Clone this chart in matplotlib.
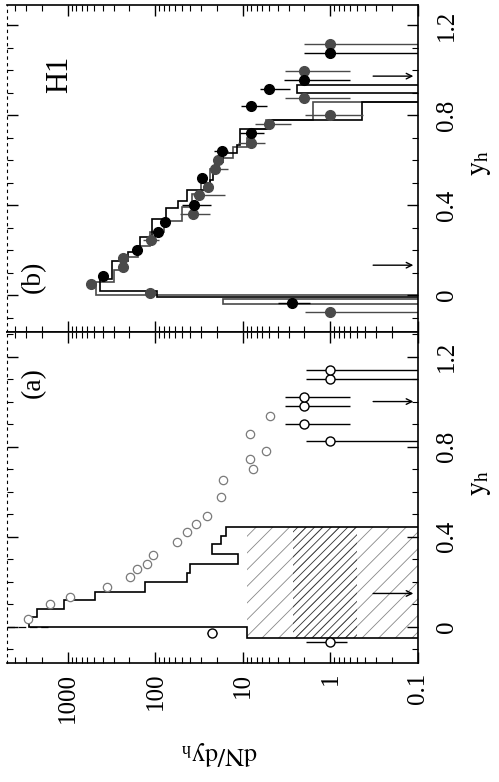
import numpy as np
import matplotlib
matplotlib.use("Agg")
import matplotlib.pyplot as plt
from matplotlib.ticker import LogLocator, MultipleLocator, NullFormatter, FixedLocator

plt.rcParams['font.family'] = ['Liberation Serif', 'DejaVu Serif']
plt.rcParams['mathtext.fontset'] = 'stix'
plt.rcParams['hatch.linewidth'] = 0.6

# ---- panel (a) data ----
# faint open circles (scanned badly)
ya_faint = [0.034, 0.10, 0.13, 0.175, 0.22, 0.256, 0.28, 0.32, 0.375, 0.42,
            0.456, 0.493, 0.575, 0.65, 0.70, 0.745, 0.78, 0.856, 0.938]
na_faint = [2840, 1610, 950, 361, 196, 164, 126, 106, 57, 44,
            34, 26, 18, 17, 7.7, 8.3, 5.4, 8.3, 4.9]

# clear open circles with error bars
ya_open = [-0.07, -0.028, 0.824, 0.90, 0.98, 1.022, 1.10, 1.142]
na_open = [1.0, 22.8, 1.0, 2.0, 2.0, 2.0, 1.0, 1.0]
na_open_hi = [1.9, 26, 1.9, 3.3, 3.3, 3.3, 1.9, 1.9]
na_open_lo = [0.65, 20, 0.05, 0.6, 0.6, 0.6, 0.05, 0.05]

# histogram in (a)
ha_edges = [-0.05, 0.0, 0.041, 0.076, 0.116, 0.155, 0.197, 0.237, 0.278,
            0.323, 0.367, 0.404, 0.441]
ha_vals = [9, 2760, 2290, 1120, 490, 132, 44, 40, 11.5, 22.4, 18, 15.5]

# hatched band in (a)
hatch_y = [-0.05, 0.441]
hatch_wide = [0.1, 9.0]
hatch_dense = [0.5, 2.7]

# ---- panel (b) data ----
yb_black = [-0.034, 0.086, 0.20, 0.281, 0.323, 0.40, 0.521, 0.64, 0.721,
            0.84, 0.916, 0.956, 1.074]
nb_black = [2.75, 401, 161, 94, 78, 36, 29.6, 17.5, 8.2, 8.2, 5.0, 2.0, 1.0]
nb_black_hi = [4.0, 440, 180, 105, 88, 50, 33, 21.3, 10.8, 10.4, 6.4, 3.4, 2.0]
nb_black_lo = [1.7, 365, 145, 84, 70, 23, 26, 14.7, 5.8, 5.3, 2.9, 0.6, 0.05]

yb_gray = [-0.077, 0.008, 0.048, 0.126, 0.163, 0.244, 0.36, 0.444, 0.481,
           0.559, 0.60, 0.677, 0.76, 0.80, 0.877, 0.996, 1.116]
nb_gray = [1.0, 116, 546, 233, 237, 113, 37.6, 31.5, 25.3, 20.9, 19.4, 8.2,
           5.0, 1.0, 2.0, 2.0, 1.0]
nb_gray_hi = [1.95, 128, 600, 260, 265, 140, 52, 37.5, 28.5, 23, 21.5, 11.3,
              7.3, 1.95, 3.3, 3.3, 2.0]
nb_gray_lo = [0.05, 104, 495, 208, 212, 92, 24, 16, 22, 15, 17.3, 5.6,
              2.8, 0.42, 0.6, 0.6, 0.05]

hb_black_edges = [-0.01, 0.02, 0.07, 0.15, 0.19, 0.26, 0.34, 0.385, 0.42, 0.467,
                  0.51, 0.555, 0.59, 0.63, 0.667, 0.74, 0.78, 0.86, 0.896, 0.933]
hb_black_vals = [96, 430, 316, 204, 150, 110, 75, 55, 44, 24,
                 22, 21, 17, 11.8, 10.8, 4.9, 0.44, 0, 2.4]

hb_gray_edges = [-0.04, -0.018, 0.0, 0.06, 0.11, 0.17, 0.22, 0.28, 0.33, 0.39,
                 0.45, 0.50, 0.56, 0.61, 0.66, 0.70, 0.74, 0.78, 0.86, 0.90]
hb_gray_vals = [17, 0, 480, 300, 230, 160, 115, 80, 50, 38,
                30, 24, 19, 13, 9, 7.5, 5.5, 1.6, 0]

# upper limit arrows
ya_lim = [0.147, 1.0]
yb_lim = [0.133, 0.973]
lim_from = 0.35

xtick_vals = [1000, 100, 10, 1, 0.1]
xtick_labels = ['1000', '100', '10', '1', '0.1']
ytick_vals = [0, 0.4, 0.8, 1.2]
ytick_labels = ['0', '0.4', '0.8', '1.2']

GRAY = '#4a4a4a'

fig = plt.figure(figsize=(4.99, 7.82), dpi=100)
ax_b = fig.add_axes([0.014, 0.5754, 0.8236, 0.4182])
ax_a = fig.add_axes([0.014, 0.1522, 0.8236, 0.4232])


def errbar(ax, y, n, lo, hi, **kw):
    n = np.array(n)
    xerr = [n - np.array(lo), np.array(hi) - n]
    ax.errorbar(n, y, xerr=xerr, fmt='o', capsize=0, elinewidth=1.0, **kw)


def stairs(ax, edges, vals, **kw):
    v = np.clip(np.array(vals, dtype=float), 1e-3, None)
    ax.stairs(v, edges, orientation='horizontal', baseline=1e-3, **kw)


def style(ax, ylim, bottom_labels):
    ax.set_xscale('log')
    ax.set_xlim(4980, 0.1)
    ax.set_ylim(*ylim)
    ax.xaxis.set_major_locator(FixedLocator(xtick_vals))
    ax.xaxis.set_minor_locator(LogLocator(base=10, subs=np.arange(2, 10)))
    ax.xaxis.set_minor_formatter(NullFormatter())
    ax.yaxis.set_major_locator(FixedLocator(ytick_vals))
    ax.yaxis.set_minor_locator(MultipleLocator(0.1))
    ax.tick_params(which='both', direction='in', top=True, bottom=True,
                   left=True, right=True, labelleft=False, labelright=True,
                   labelbottom=bottom_labels, labeltop=False)
    ax.tick_params(which='major', length=8, width=1.0)
    ax.tick_params(which='minor', length=4, width=0.8)
    ax.tick_params(axis='y', which='major', pad=13)
    ax.tick_params(axis='x', which='major', pad=7)
    ax.set_yticklabels(ytick_labels, rotation=90, va='center', fontsize=18)
    if bottom_labels:
        ax.set_xticklabels(xtick_labels, rotation=90, fontsize=18)
    ax.spines['left'].set_linestyle((0, (2, 4)))
    ax.spines['left'].set_linewidth(0.8)
    for s in ['right', 'top', 'bottom']:
        ax.spines[s].set_linewidth(1.2)


# ---- panel (a) ----
ax_a.fill_betweenx(hatch_y, hatch_wide[0], hatch_wide[1], facecolor='none',
                   edgecolor='#888888', hatch='//', linewidth=0)
ax_a.fill_betweenx(hatch_y, hatch_dense[0], hatch_dense[1], facecolor='none',
                   edgecolor='#333333', hatch='////', linewidth=0)
stairs(ax_a, ha_edges, ha_vals, color='black', lw=1.2)
ax_a.axhline(0, xmin=0, xmax=0.1, color='black', lw=0.9, ls=(0, (6, 3)))
ax_a.plot(na_faint, ya_faint, 'o', mfc='white', mec='#7a7a7a', ms=6, mew=0.9)
errbar(ax_a, ya_open, na_open, na_open_lo, na_open_hi, color='black',
       mfc='white', mec='black', ms=6.5, mew=1.0)
for y in ya_lim:
    ax_a.annotate('', xy=(0.105, y), xytext=(lim_from, y),
                  arrowprops=dict(arrowstyle='->', lw=1.0, color='black'))
style(ax_a, (-0.162, 1.309), True)

# ---- panel (b) ----
stairs(ax_b, hb_gray_edges, hb_gray_vals, color=GRAY, lw=1.2)
stairs(ax_b, hb_black_edges, hb_black_vals, color='black', lw=1.2)
errbar(ax_b, yb_gray, nb_gray, nb_gray_lo, nb_gray_hi, color=GRAY,
       mfc=GRAY, mec=GRAY, ms=7)
errbar(ax_b, yb_black, nb_black, nb_black_lo, nb_black_hi, color='black',
       mfc='black', mec='black', ms=7)
for y in yb_lim:
    ax_b.annotate('', xy=(0.105, y), xytext=(lim_from, y),
                  arrowprops=dict(arrowstyle='->', lw=1.0, color='black'))
style(ax_b, (-0.164, 1.289), False)

# axis titles and panel labels
fig.text(0.963, 0.792, r'$\mathrm{y_h}$', rotation=90, fontsize=20,
         ha='center', va='center')
fig.text(0.963, 0.382, r'$\mathrm{y_h}$', rotation=90, fontsize=20,
         ha='center', va='center')
fig.text(0.066, 0.646, '(b)', rotation=90, fontsize=20, ha='center', va='center')
fig.text(0.066, 0.511, '(a)', rotation=90, fontsize=20, ha='center', va='center')
fig.text(0.12, 0.905, 'H1', rotation=90, fontsize=22, ha='center', va='center')
fig.text(0.439, 0.037, r'$\mathrm{dN/dy_h}$', rotation=180, fontsize=19,
         ha='center', va='center')

fig.savefig('out.png', dpi=100)
